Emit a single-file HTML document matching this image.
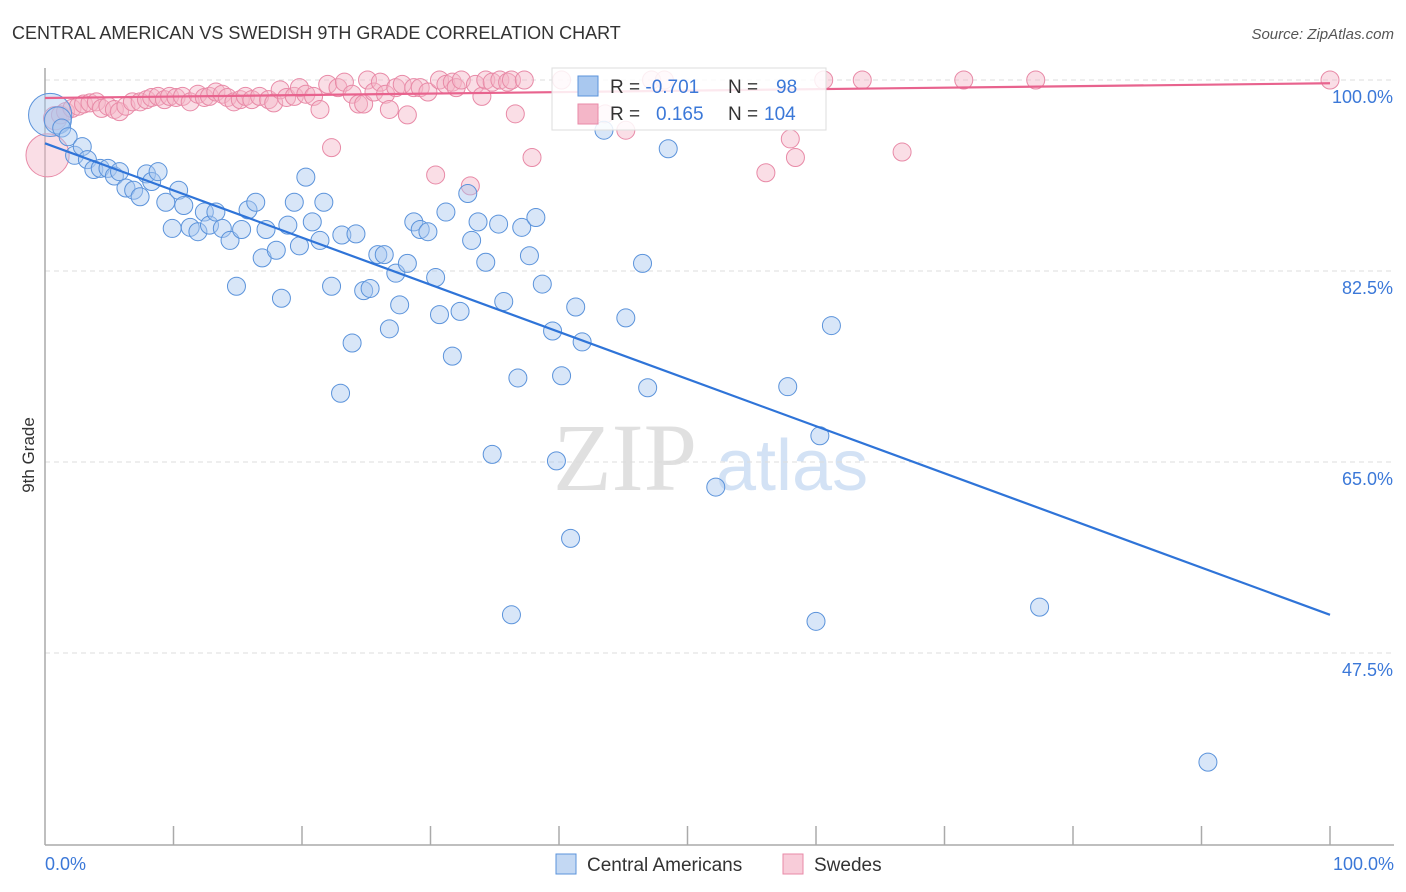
<!DOCTYPE html>
<html><head><meta charset="utf-8"><style>
body{margin:0;background:#fff;font-family:"Liberation Sans",sans-serif}
svg{display:block}
</style></head><body>
<svg id="c" width="1406" height="892" xmlns="http://www.w3.org/2000/svg">
<text x="12" y="39" font-size="18" fill="#333">CENTRAL AMERICAN VS SWEDISH 9TH GRADE CORRELATION CHART</text>
<text x="1394" y="39" font-size="15" fill="#555" text-anchor="end" font-style="italic">Source: ZipAtlas.com</text>
<text x="553" y="490" font-size="96" fill="#e0e0e0" font-family="Liberation Serif,serif">ZIP</text>
<text x="716" y="490" font-size="72" fill="#d3e2f5">atlas</text>
<g id="grid"></g>
<line x1="45" y1="68" x2="45" y2="845" stroke="#aaa" stroke-width="1.5"/>
<line x1="45" y1="845" x2="1394" y2="845" stroke="#aaa" stroke-width="1.5"/>
<g id="xt"></g>
<text x="45" y="870" font-size="18" fill="#3b78d8">0.0%</text>
<text x="1394" y="870" font-size="18" fill="#3b78d8" text-anchor="end">100.0%</text>
<text transform="translate(34,455) rotate(-90)" font-size="17" fill="#333" text-anchor="middle">9th Grade</text>
<g id="pts"></g>
<g id="lines"></g>
<g>
<rect x="552" y="68" width="274" height="62" fill="#fff" fill-opacity="0.85" stroke="#ddd"/>
<rect x="578" y="76" width="20" height="20" fill="#a9c8ef" stroke="#5b93db"/>
<text x="610" y="93" font-size="19" fill="#333">R = <tspan fill="#3b78d8">-0.701</tspan><tspan x="728">N = </tspan><tspan x="776" fill="#3b78d8">98</tspan></text>
<rect x="578" y="104" width="20" height="20" fill="#f4b6c8" stroke="#e88aa7"/>
<text x="610" y="120" font-size="19" fill="#333">R = <tspan x="656" fill="#3b78d8">0.165</tspan><tspan x="728">N = </tspan><tspan x="764" fill="#3b78d8">104</tspan></text>
</g>
<g>
<rect x="556" y="854" width="20" height="20" fill="#c3d8f3" stroke="#5b93db"/>
<text x="587" y="871" font-size="19" fill="#333">Central Americans</text>
<rect x="783" y="854" width="20" height="20" fill="#f8ccd9" stroke="#e88aa7"/>
<text x="814" y="871" font-size="19" fill="#333">Swedes</text>
</g>
</svg>
<script>
const yTicks=[100,82.5,65,47.5];
const yTickLabels=["100.0%","82.5%","65.0%","47.5%"];
const blueX=[0.4,1.0,1.3,1.8,2.3,2.9,3.3,3.8,4.3,4.9,5.4,5.8,6.3,6.9,7.4,7.9,8.3,8.8,9.4,9.9,10.4,10.8,11.3,11.9,12.4,12.8,13.3,13.8,14.4,14.9,15.3,15.8,16.4,16.9,17.2,18.0,18.4,18.9,19.4,19.8,20.3,20.8,21.4,21.7,22.3,23.1,23.0,23.9,24.2,24.8,25.3,25.9,26.4,26.8,27.3,27.6,28.2,28.7,29.2,29.8,30.4,30.7,31.2,31.7,32.3,32.9,33.2,33.7,34.3,34.8,35.3,35.7,36.3,36.8,37.1,37.7,38.2,38.7,39.5,39.8,40.2,40.9,41.3,41.8,43.5,45.2,46.5,46.9,48.5,52.2,57.8,60.0,60.3,61.2,77.4,90.5];
const blueY=[96.8,96.3,95.6,94.8,93.1,93.9,92.7,91.8,91.9,91.9,91.2,91.6,90.1,89.9,89.3,91.4,90.7,91.6,88.8,86.4,89.9,88.5,86.5,86.1,87.9,86.7,87.9,86.4,85.3,81.1,86.3,88.1,88.8,83.7,86.3,84.4,80.0,86.7,88.8,84.8,91.1,87.0,85.3,88.8,81.1,85.8,71.3,75.9,85.9,80.7,80.9,84.0,84.0,77.2,82.3,79.4,83.2,87.0,86.3,86.1,81.9,78.5,87.9,74.7,78.8,89.6,85.3,87.0,83.3,65.7,86.8,79.7,51.0,72.7,86.5,83.9,87.4,81.3,77.0,65.1,72.9,58.0,79.2,76.0,95.4,78.2,83.2,71.8,93.7,62.7,71.9,50.4,67.4,77.5,51.7,37.5];
const blueSize=[2.4,1.5,1];
const pinkX=[0.2,0.8,1.2,1.6,2.1,2.6,3.0,3.5,4.0,4.4,4.9,5.4,5.8,6.3,6.8,7.4,7.9,8.3,8.8,9.3,9.7,10.2,10.7,11.3,11.9,12.4,12.8,13.3,13.8,14.2,14.7,15.2,15.6,16.1,16.7,17.4,17.8,18.3,18.8,19.4,19.8,20.3,20.9,21.4,22.0,22.3,22.8,23.3,23.9,24.4,24.8,25.1,25.6,26.1,26.5,26.8,27.3,27.8,28.2,28.7,29.2,29.8,30.4,30.7,31.2,31.7,32.0,32.4,33.1,33.5,34.0,34.3,34.8,35.4,36.0,36.3,36.6,37.3,37.9,40.2,43.6,45.2,47.2,48.2,58.0,58.4,60.6,63.6,66.7,71.5,77.1,100,56.1];
const pinkY=[93.1,96.5,96.8,97.1,97.4,97.6,97.8,97.9,98.0,97.4,97.6,97.3,97.1,97.6,98.0,98.0,98.2,98.4,98.5,98.2,98.5,98.4,98.5,98.0,98.7,98.4,98.5,98.9,98.7,98.4,98.0,98.2,98.5,98.2,98.5,98.2,97.9,99.1,98.4,98.5,99.3,98.7,98.5,97.3,99.6,93.8,99.3,99.8,98.7,97.8,97.8,100,98.9,99.8,98.7,97.3,99.3,99.6,96.8,99.3,99.3,98.9,91.3,100,99.6,99.8,99.3,100,90.3,99.6,98.5,100,99.8,100,99.8,100,96.9,100,92.9,100,96.9,95.4,100,100,94.6,92.9,100,100,93.4,100,100,100,91.5];
const pinkSize=[2.4,1.3];
// trend line endpoints (value at x=0%, x=100%)
const blueTrend=[94.2,51.0];
const pinkTrend=[98.35,99.7];
const X=v=>45+v*12.85, Y=v=>80+(100-v)*10.914;
const NS="http://www.w3.org/2000/svg";
function mk(t,a,p){const e=document.createElementNS(NS,t);for(const k in a)e.setAttribute(k,a[k]);p.appendChild(e);return e;}
const grid=document.getElementById('grid');
yTicks.forEach((v,i)=>{
 const l=mk('line',{x1:45,x2:1394,y1:Y(v),y2:Y(v),stroke:'#ddd','stroke-dasharray':'5,4'},grid);
 
 
 const t=mk('text',{x:1393,y:Y(v)+23,'font-size':18,fill:'#3b78d8','text-anchor':'end'},grid);
 t.textContent=yTickLabels[i];
 
 
});
const xt=document.getElementById('xt');
for(let i=1;i<=10;i++){
 const l=mk('line',{x1:X(i*10),x2:X(i*10),y1:845,y2:826,stroke:'#aaa','stroke-width':1.5},xt);
 
 
}
const pts=document.getElementById('pts');
pinkX.forEach((x,i)=>{
 const c=mk('circle',{cx:X(x),cy:Y(pinkY[i]),r:9*(pinkSize[i]||1),fill:'#f4b6c8','fill-opacity':0.45,stroke:'#e88aa7','stroke-width':1},pts);
 
 
});
blueX.forEach((x,i)=>{
 const c=mk('circle',{cx:X(x),cy:Y(blueY[i]),r:9*(blueSize[i]||1),fill:'#a9c8ef','fill-opacity':0.45,stroke:'#5b93db','stroke-width':1},pts);
 
 
});
const ln=document.getElementById('lines');
const bl=mk('line',{x1:X(0),y1:Y(blueTrend[0]),x2:X(100),y2:Y(blueTrend[1]),stroke:'#2f74d8','stroke-width':2.2},ln);


const pl=mk('line',{x1:X(0),y1:Y(pinkTrend[0]),x2:X(100),y2:Y(pinkTrend[1]),stroke:'#e8638e','stroke-width':2.2},ln);


</script>
</body></html>
